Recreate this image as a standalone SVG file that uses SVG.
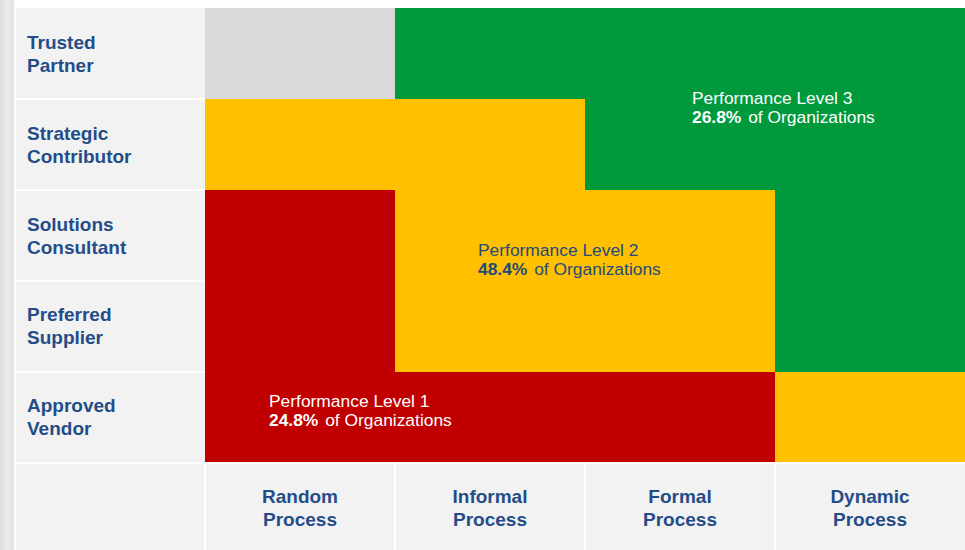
<svg xmlns="http://www.w3.org/2000/svg" width="965" height="550" viewBox="0 0 965 550">
  <defs>
    <linearGradient id="strip" x1="0" y1="0" x2="1" y2="0">
      <stop offset="0" stop-color="#dcdcdc"/>
      <stop offset="0.5" stop-color="#ececec"/>
      <stop offset="1" stop-color="#e2e2e2"/>
    </linearGradient>
  </defs>
  <style>
    .cell { fill: #f2f2f2; }
    .sep { stroke: #ffffff; stroke-width: 2; }
    .lab { font-family: "Liberation Sans", Arial, sans-serif; font-weight: bold; font-size: 19px; fill: #244d87; }
    .perf { font-family: "Liberation Sans", Arial, sans-serif; font-size: 17.4px; }
    .b { font-weight: bold; }
    .red { fill: #c00000; }
    .yel { fill: #ffc000; }
    .grn { fill: #009a3d; }
    .gry { fill: #d9d9d9; }
  </style>
  <rect x="0" y="0" width="965" height="550" fill="#ffffff"/>
  <rect x="0" y="0" width="14" height="550" fill="url(#strip)"/>

  <g id="axis-background">
    <rect class="cell" x="16" y="8" width="189" height="542"/>
    <rect class="cell" x="205" y="463" width="760" height="87"/>
    <line class="sep" x1="16" y1="99" x2="205" y2="99"/>
    <line class="sep" x1="16" y1="190" x2="205" y2="190"/>
    <line class="sep" x1="16" y1="281" x2="205" y2="281"/>
    <line class="sep" x1="16" y1="372" x2="205" y2="372"/>
    <line class="sep" x1="16" y1="463" x2="965" y2="463"/>
    <line class="sep" x1="205" y1="463" x2="205" y2="550"/>
    <line class="sep" x1="395" y1="463" x2="395" y2="550"/>
    <line class="sep" x1="585" y1="463" x2="585" y2="550"/>
    <line class="sep" x1="775" y1="463" x2="775" y2="550"/>
  </g>

  <g id="grid">
    <rect class="gry" x="205" y="8" width="190" height="91"/>
    <path id="level3" class="grn" d="M395 8 H965 V372 H775 V190 H585 V99 H395 Z"/>
    <path id="level2" class="yel" d="M205 99 H585 V190 H775 V372 H395 V190 H205 Z"/>
    <rect class="yel" x="775" y="372" width="190" height="90"/>
    <path id="level1" class="red" d="M205 190 H395 V372 H775 V462 H205 Z"/>
  </g>

  <g id="row-labels">
    <text class="lab" x="27" y="49">Trusted<tspan x="27" y="72">Partner</tspan></text>
    <text class="lab" x="27" y="140">Strategic<tspan x="27" y="163">Contributor</tspan></text>
    <text class="lab" x="27" y="231">Solutions<tspan x="27" y="254">Consultant</tspan></text>
    <text class="lab" x="27" y="321">Preferred<tspan x="27" y="344">Supplier</tspan></text>
    <text class="lab" x="27" y="412">Approved<tspan x="27" y="435">Vendor</tspan></text>
  </g>

  <g id="col-labels" text-anchor="middle">
    <text class="lab" x="300" y="503">Random<tspan x="300" y="526">Process</tspan></text>
    <text class="lab" x="490" y="503">Informal<tspan x="490" y="526">Process</tspan></text>
    <text class="lab" x="680" y="503">Formal<tspan x="680" y="526">Process</tspan></text>
    <text class="lab" x="870" y="503">Dynamic<tspan x="870" y="526">Process</tspan></text>
  </g>

  <g id="level3-label">
    <text class="perf" x="692" y="104" fill="#ffffff">Performance Level 3</text>
    <text class="perf" x="692" y="123" fill="#ffffff"><tspan class="b">26.8%</tspan><tspan dx="2"> of Organizations</tspan></text>
  </g>
  <g id="level2-label">
    <text class="perf" x="478" y="256" fill="#244a7c">Performance Level 2</text>
    <text class="perf" x="478" y="275" fill="#244a7c"><tspan class="b">48.4%</tspan><tspan dx="2"> of Organizations</tspan></text>
  </g>
  <g id="level1-label">
    <text class="perf" x="269" y="407" fill="#ffffff">Performance Level 1</text>
    <text class="perf" x="269" y="426" fill="#ffffff"><tspan class="b">24.8%</tspan><tspan dx="2"> of Organizations</tspan></text>
  </g>
</svg>
